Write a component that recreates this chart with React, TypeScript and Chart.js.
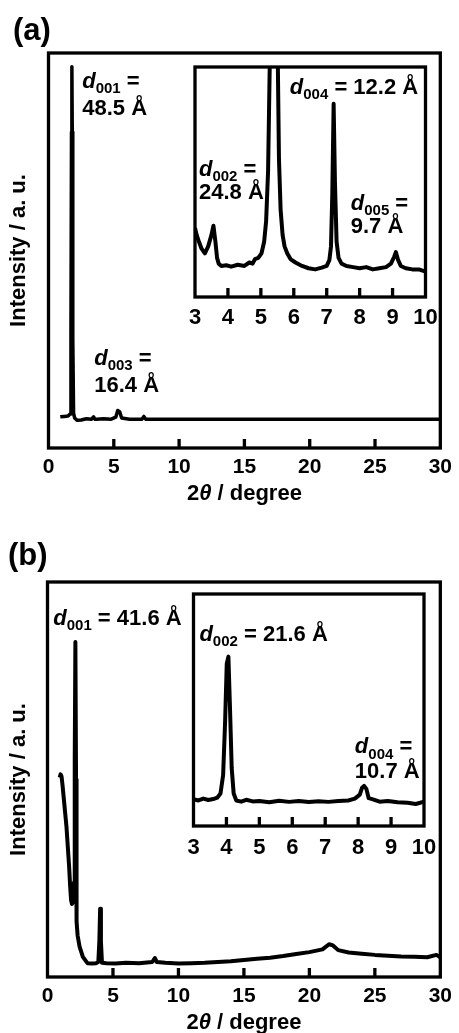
import React, { useEffect, useRef } from "react";
import { Chart, registerables } from "chart.js";

Chart.register(...registerables);

const PAGE_W = 459;
const PAGE_H = 1033;
const FONT = '"Liberation Sans", Arial, Helvetica, sans-serif';
const INK = "#000";

// ---------- Panel (a): main pattern ----------
const aMainX = [0.9, 1.2, 1.5, 1.65, 1.72, 1.76, 1.79, 1.82, 1.86, 1.92, 2.0, 2.2, 2.5, 2.9, 3.3, 3.45, 3.55, 3.7, 4.2, 4.8, 5.15, 5.3, 5.45, 5.6, 6.2, 7.15, 7.3, 7.45, 8.5, 12, 18, 24, 30];
const aMainY = [7.9, 8.0, 8.1, 8.6, 30, 80, 96.5, 80, 28, 8.8, 7.6, 7.0, 7.1, 7.4, 7.3, 7.9, 7.3, 7.3, 7.4, 7.3, 7.8, 9.5, 9.2, 7.6, 7.3, 7.3, 8.0, 7.3, 7.3, 7.3, 7.3, 7.3, 7.3];

// ---------- Panel (a): inset 3–10° ----------
const aInsetX = [3.0, 3.05, 3.12, 3.2, 3.3, 3.4, 3.5, 3.56, 3.62, 3.67, 3.72, 3.8, 3.95, 4.1, 4.3, 4.5, 4.65, 4.75, 4.82, 4.92, 5.02, 5.1, 5.16, 5.22, 5.28, 5.4, 5.5, 5.55, 5.6, 5.66, 5.72, 5.8, 5.9, 6.05, 6.25, 6.45, 6.65, 6.85, 7.0, 7.08, 7.13, 7.17, 7.21, 7.25, 7.3, 7.36, 7.45, 7.6, 7.8, 8.0, 8.2, 8.4, 8.6, 8.8, 8.95, 9.05, 9.1, 9.17, 9.25, 9.4, 9.6, 9.8, 10.0];
const aInsetY = [30, 27, 24, 21, 19, 22, 27, 31, 24, 17, 14.5, 13.5, 13.8, 13.2, 14.0, 13.5, 15, 14.5, 16.5, 17, 19, 24, 33, 55, 110, 170, 120, 60, 38, 27, 22, 19, 16.5, 15, 13.5, 12.5, 12, 12.8, 13.5, 16, 22, 45, 84, 50, 24, 17, 14.5, 13.5, 13, 12.5, 13, 12, 12.5, 13, 14.5, 17.5, 19.5, 16, 13.5, 12.5, 12, 12, 11];

// ---------- Panel (b): main pattern ----------
const bMainX = [0.93, 1.0, 1.07, 1.15, 1.25, 1.35, 1.45, 1.55, 1.65, 1.73, 1.8, 1.87, 1.95, 2.03, 2.08, 2.13, 2.18, 2.22, 2.3, 2.45, 2.7, 3.05, 3.4, 3.7, 3.88, 3.96, 4.02, 4.08, 4.16, 4.5, 5.2, 6, 7, 8.0, 8.2, 8.35, 9, 10, 11, 12, 13, 14, 15, 16, 17, 18, 19, 20, 21, 21.5, 21.8, 22.2, 23, 24, 25, 26, 27, 28, 29, 29.7, 30];
const bMainY = [50.5, 51.3, 50.8, 48.5, 45, 41.5, 38, 33, 28, 23, 19.5, 18.5, 19, 24, 55, 84.8, 50, 14, 10.5, 7.7, 5.1, 3.5, 3.4, 3.5, 3.8, 9, 17.3, 9, 3.6, 3.5, 3.4, 3.6, 3.5, 3.8, 4.8, 3.8, 3.6, 3.4, 3.5, 3.6, 3.8, 4.0, 4.3, 4.6, 4.9, 5.3, 5.8, 6.3, 7.0, 8.3, 8.0, 6.8, 6.2, 5.9, 5.6, 5.4, 5.2, 5.1, 5.0, 5.6, 5.0];

// ---------- Panel (b): inset 3–10° ----------
const bInsetX = [3.0, 3.15, 3.3, 3.45, 3.6, 3.72, 3.82, 3.9, 3.96, 4.01, 4.06, 4.11, 4.16, 4.22, 4.3, 4.45, 4.6, 4.8, 5.0, 5.3, 5.6, 5.9, 6.2, 6.5, 6.8, 7.1, 7.4, 7.7, 7.9, 8.05, 8.12, 8.18, 8.25, 8.32, 8.45, 8.65, 8.9, 9.2, 9.5, 9.75, 10.0];
const bInsetY = [11.5, 11, 11.8, 11.2, 11.6, 12.2, 14, 22, 45, 70, 73, 50, 25, 14, 11, 10.5, 11.3, 10.6, 10.8, 10.2, 10.9, 10.4, 10.8, 10.3, 10.7, 10.4, 10.8, 11, 11.8, 13.5, 16.5, 17.3, 16, 12, 11.5, 10.5, 10.8, 10.2, 10, 9.5, 10.5];

// tick marks (inward) on the bottom frame
const mainTickMarks = [5, 10, 15, 20, 25];
const insetTickMarks = [4, 5, 6, 7, 8, 9];

type Part = { t: string; i?: boolean; s?: boolean };
type Note = { x: number; y: number; parts: Part[] };
const dLabel = (n: string): Part[] => [{ t: "d", i: true }, { t: n, s: true }, { t: " =" }];
const txt = (t: string): Part[] => [{ t }];

// annotations (anchored in data units)
const aMainNotes: Note[] = [
  { x: 2.58, y: 91.1, parts: dLabel("001") },
  { x: 2.58, y: 84.4, parts: txt("48.5 Å") },
  { x: 3.5, y: 21.0, parts: dLabel("003") },
  { x: 3.5, y: 14.3, parts: txt("16.4 Å") },
];
const aInsetNotes: Note[] = [
  { x: 3.12, y: 52.7, parts: dLabel("002") },
  { x: 3.12, y: 42.6, parts: txt("24.8 Å") },
  { x: 5.88, y: 88.3, parts: [...dLabel("004"), { t: " 12.2 Å" }] },
  { x: 7.73, y: 37.8, parts: dLabel("005") },
  { x: 7.73, y: 27.7, parts: txt("9.7 Å") },
];
const bMainNotes: Note[] = [
  { x: 0.44, y: 89.1, parts: [...dLabel("001"), { t: " 41.6 Å" }] },
];
const bInsetNotes: Note[] = [
  { x: 3.18, y: 79.9, parts: [...dLabel("002"), { t: " 21.6 Å" }] },
  { x: 7.9, y: 31.3, parts: dLabel("004") },
  { x: 7.9, y: 20.6, parts: txt("10.7 Å") },
];

type Panel = {
  xs: number[];
  ys: number[];
  area: { l: number; r: number; t: number; b: number };
  xMin: number;
  xMax: number;
  step: number;
  yMax: number;
  marks: number[];
  tickPad: number;
  tickFont: number;
  tickLen: number;
  lw: number;
  inset: boolean;
  notes: Note[];
  yTitle?: string;
  xTitle?: boolean;
  letter?: { t: string; x: number; y: number };
};

const panels: Panel[] = [
  {
    xs: aMainX, ys: aMainY, area: { l: 48.5, r: 446.5, t: 53, b: 448 },
    xMin: 0, xMax: 30, step: 5, yMax: 100, marks: mainTickMarks, tickPad: 7, tickFont: 21, tickLen: 9, lw: 3.5,
    inset: false, notes: aMainNotes, yTitle: "Intensity / a. u.", xTitle: true,
    letter: { t: "(a)", x: 13, y: 31 },
  },
  {
    xs: aInsetX, ys: aInsetY, area: { l: 195, r: 425.5, t: 67, b: 297 },
    xMin: 3, xMax: 10, step: 1, yMax: 100, marks: insetTickMarks, tickPad: 8, tickFont: 22, tickLen: 9, lw: 4,
    inset: true, notes: aInsetNotes,
  },
  {
    xs: bMainX, ys: bMainY, area: { l: 47.5, r: 445, t: 582, b: 977 },
    xMin: 0, xMax: 30, step: 5, yMax: 100, marks: mainTickMarks, tickPad: 7, tickFont: 21, tickLen: 9, lw: 4,
    inset: false, notes: bMainNotes, yTitle: "Intensity / a. u.", xTitle: true,
    letter: { t: "(b)", x: 8, y: 556 },
  },
  {
    xs: bInsetX, ys: bInsetY, area: { l: 193.5, r: 424, t: 594, b: 826 },
    xMin: 3, xMax: 10, step: 1, yMax: 100, marks: insetTickMarks, tickPad: 9, tickFont: 22, tickLen: 9, lw: 4,
    inset: true, notes: bInsetNotes,
  },
];

const NOTE_SIZE = 22;

function fontFor(p: Part, size: number) {
  const fs = p.s ? Math.round(size * 0.68) : size;
  return `${p.i ? "italic " : ""}bold ${fs}px ${FONT}`;
}

function drawParts(ctx: CanvasRenderingContext2D, x: number, y: number, parts: Part[], size: number, align: "left" | "center") {
  const widths = parts.map((p) => {
    ctx.font = fontFor(p, size);
    return ctx.measureText(p.t).width;
  });
  let cx = align === "center" ? x - widths.reduce((a, b) => a + b, 0) / 2 : x;
  parts.forEach((p, k) => {
    ctx.font = fontFor(p, size);
    ctx.fillText(p.t, cx, p.s ? y + size * 0.24 : y);
    cx += widths[k];
  });
}

function makeDecor(cfg: Panel) {
  return {
    id: "decor",
    beforeDraw(chart: any) {
      if (!cfg.inset) return;
      const { left, right, top, bottom } = chart.chartArea;
      const ctx = chart.ctx;
      ctx.save();
      ctx.fillStyle = "#fff";
      ctx.fillRect(left, top, right - left, bottom - top);
      ctx.restore();
    },
    afterDraw(chart: any) {
      const ctx: CanvasRenderingContext2D = chart.ctx;
      const { left, right, top, bottom } = chart.chartArea;
      const xs = chart.scales.x;
      const ys = chart.scales.y;
      ctx.save();
      ctx.strokeStyle = INK;
      ctx.lineWidth = 3.3;
      ctx.strokeRect(left, top, right - left, bottom - top);
      ctx.beginPath();
      for (const v of cfg.marks) {
        const px = xs.getPixelForValue(v);
        ctx.moveTo(px, bottom);
        ctx.lineTo(px, bottom - cfg.tickLen);
      }
      ctx.stroke();
      ctx.fillStyle = INK;
      ctx.textAlign = "left";
      ctx.textBaseline = "alphabetic";
      for (const n of cfg.notes) {
        drawParts(ctx, xs.getPixelForValue(n.x), ys.getPixelForValue(n.y), n.parts, NOTE_SIZE, "left");
      }
      if (cfg.xTitle) {
        drawParts(ctx, (left + right) / 2, bottom + 52, [{ t: "2" }, { t: "θ", i: true }, { t: " / degree" }], 22, "center");
      }
      if (cfg.letter) {
        ctx.font = `bold 31px ${FONT}`;
        ctx.textBaseline = "middle";
        ctx.fillText(cfg.letter.t, cfg.letter.x, cfg.letter.y);
      }
      ctx.restore();
    },
  };
}

function PanelCanvas({ cfg }: { cfg: Panel }) {
  const ref = useRef<HTMLCanvasElement | null>(null);
  useEffect(() => {
    const canvas = ref.current;
    if (!canvas) return;
    const a = cfg.area;
    const hasY = !!cfg.yTitle;
    const chart = new Chart(canvas, {
      type: "line",
      data: {
        datasets: [
          {
            data: cfg.xs.map((x, i) => ({ x, y: cfg.ys[i] })),
            borderColor: INK,
            borderWidth: cfg.lw,
            pointRadius: 0,
            tension: 0,
            fill: false,
            borderJoinStyle: "round",
            borderCapStyle: "butt",
            clip: 0,
          } as any,
        ],
      },
      options: {
        animation: false,
        responsive: false,
        devicePixelRatio: 1,
        events: [],
        layout: {
          autoPadding: false,
          padding: { left: hasY ? 0 : a.l, right: PAGE_W - a.r, top: a.t, bottom: 0 },
        },
        plugins: { legend: { display: false }, tooltip: { enabled: false } },
        scales: {
          x: {
            type: "linear",
            position: "bottom",
            min: cfg.xMin,
            max: cfg.xMax,
            ticks: {
              stepSize: cfg.step,
              autoSkip: false,
              maxRotation: 0,
              color: INK,
              padding: cfg.tickPad,
              font: { family: FONT, size: cfg.tickFont, weight: "bold" },
            },
            grid: { display: false, drawTicks: false },
            border: { display: false },
            afterFit: (s: any) => {
              s.height = PAGE_H - a.b;
            },
          },
          y: {
            type: "linear",
            min: 0,
            max: cfg.yMax,
            display: hasY,
            ticks: { display: false },
            grid: { display: false, drawTicks: false },
            border: { display: false },
            title: {
              display: hasY,
              text: cfg.yTitle || "",
              color: INK,
              font: { family: FONT, size: 22, weight: "bold" },
              padding: { top: 6, bottom: 0 },
            },
            afterFit: (s: any) => {
              if (hasY) s.width = a.l;
            },
          },
        },
      } as any,
      plugins: [makeDecor(cfg)],
    });
    return () => chart.destroy();
  }, [cfg]);
  return (
    <canvas
      ref={ref}
      width={PAGE_W}
      height={PAGE_H}
      style={{ position: "absolute", left: 0, top: 0, width: PAGE_W, height: PAGE_H }}
    />
  );
}

export default function App() {
  return (
    <div style={{ position: "absolute", left: 0, top: 0, width: PAGE_W, height: PAGE_H, background: "#fff", overflow: "hidden" }}>
      {panels.map((p, i) => (
        <PanelCanvas key={i} cfg={p} />
      ))}
    </div>
  );
}
